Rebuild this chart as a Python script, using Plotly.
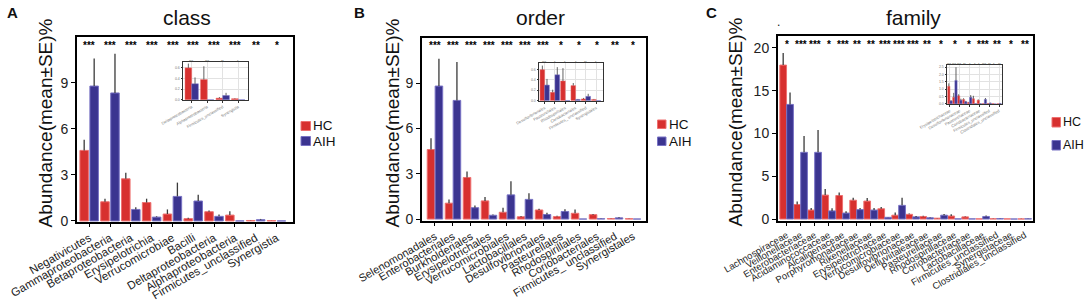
import plotly.graph_objects as go

# ---------------- data ----------------
class_categories = ["Negativicutes", "Gammaproteobacteria", "Betaproteobacteria", "Erysipelotrichia",
                    "Verrucomicrobiae", "Bacilli", "Deltaproteobacteria", "Alphaproteobacteria",
                    "Firmicutes_unclassified", "Synergistia"]
class_hc_mean = [4.6, 1.25, 2.75, 1.2, 0.45, 0.15, 0.6, 0.38, 0.03, 0.02]
class_hc_se = [0.7, 0.2, 0.4, 0.25, 0.3, 0.05, 0.08, 0.25, 0.02, 0.01]
class_aih_mean = [8.8, 8.35, 0.75, 0.25, 1.6, 1.3, 0.3, 0.0, 0.08, 0.0]
class_aih_se = [1.8, 2.55, 0.15, 0.05, 0.9, 0.4, 0.12, 0.0, 0.05, 0.0]
class_significance = ["***", "***", "***", "***", "***", "***", "***", "***", "**", "*"]

order_categories = ["Selenomonadales", "Enterobacteriales", "Burkholderiales", "Erysipelotrichales",
                    "Verrucomicrobiales", "Lactobacillales", "Desulfovibrionales", "Pasteurellales",
                    "Rhodospirillales", "Coriobacteriales", "Firmicutes_ unclassified", "Synergistales"]
order_hc_mean = [4.6, 1.05, 2.75, 1.2, 0.45, 0.15, 0.6, 0.16, 0.38, 0.29, 0.03, 0.02]
order_hc_se = [0.75, 0.25, 0.4, 0.25, 0.3, 0.05, 0.08, 0.05, 0.25, 0.05, 0.02, 0.01]
order_aih_mean = [8.8, 7.85, 0.75, 0.25, 1.6, 1.3, 0.3, 0.5, 0.0, 0.02, 0.08, 0.0]
order_aih_se = [1.8, 2.55, 0.15, 0.05, 0.9, 0.4, 0.12, 0.15, 0.0, 0.01, 0.05, 0.0]
order_significance = ["***", "***", "***", "***", "***", "***", "***", "*", "*", "*", "**", "*"]

family_categories = ["Lachnospiraceae", "Veillonellaceae", "Enterobacteriaceae", "Acidaminococcaceae",
                     "Alcaligenaceae", "Porphyromonadaceae", "Rikenellaceae", "Erysipelotrichaceae",
                     "Verrucomicrobiaceae", "Desulfovibrionaceae", "Defluviitaleaceae", "Pasteurellaceae",
                     "Rhodospirillaceae", "Coriobacteriaceae", "Lactobacillaceae", "Firmicutes_unclassified",
                     "Synergistaceae", "Clostridiales_unclassified"]
family_hc_mean = [18.0, 1.7, 1.05, 2.8, 2.75, 2.2, 2.1, 1.2, 0.45, 0.55, 0.3, 0.1, 0.35, 0.25, 0.02, 0.03, 0.02, 0.01]
family_hc_se = [1.4, 0.35, 0.25, 0.7, 0.35, 0.3, 0.35, 0.2, 0.3, 0.1, 0.08, 0.03, 0.2, 0.05, 0.01, 0.02, 0.01, 0.01]
family_aih_mean = [13.4, 7.8, 7.8, 0.95, 0.7, 1.1, 1.05, 0.2, 1.6, 0.25, 0.15, 0.45, 0.02, 0.02, 0.3, 0.05, 0.0, 0.03]
family_aih_se = [1.4, 1.9, 2.6, 0.3, 0.2, 0.2, 0.25, 0.05, 0.9, 0.1, 0.05, 0.15, 0.01, 0.01, 0.1, 0.03, 0.0, 0.02]
family_significance = ["*", "***", "***", "*", "***", "**", "**", "***", "***", "***", "**", "*",
                       "*", "*", "***", "**", "*", "**"]

group_names = ["HC", "AIH"]
y_title = "Abundance(mean±SE)%"

# ---------------- styling / layout helpers ----------------
W, H = 1084, 303


def fx(p):
    return p / W


def fy(p):
    return 1 - p / H


FONT = "Liberation Sans, Arial, Helvetica, sans-serif"
HC_FILL, HC_EDGE = "#D7302F", "#EE7070"
AIH_FILL, AIH_EDGE = "#3B3490", "#7872C4"
ERR = "#3A3A3A"

panels = [
    dict(letter="A", letter_xy=(12, 12), title="class", title_xy=(187, 17),
         cats=class_categories, hc=class_hc_mean, hc_se=class_hc_se,
         aih=class_aih_mean, aih_se=class_aih_se, sig=class_significance,
         box=(77, 293, 37, 222), xrange=[-0.59, 9.79], yrange=[-0.07, 12.0], yticks=[0, 3, 6, 9],
         hc_off=-0.45, aih_off=0.03, bw=0.41, star_y=0.955, ytitle_x=45, xfs=11.5,
         leg=dict(sq=(301, 310.5), hc=(121.5, 130.5), aih=(136.5, 145.5), tx=311, fs=13.5),
         inset=dict(start=6, box=(183, 248, 62, 100), xrange=[-0.56, 3.63], yrange=[-0.005, 0.71],
                    yticks=[0, 0.2, 0.4, 0.6], off=-0.43, bw=0.43)),
    dict(letter="B", letter_xy=(359, 12), title="order", title_xy=(540, 17),
         cats=order_categories, hc=order_hc_mean, hc_se=order_hc_se,
         aih=order_aih_mean, aih_se=order_aih_se, sig=order_significance,
         box=(422, 646, 38, 221), xrange=[-0.72, 11.72], yrange=[-0.13, 11.98], yticks=[0, 3, 6, 9],
         hc_off=-0.43, aih_off=0.01, bw=0.42, star_y=0.96, ytitle_x=392, xfs=11,
         leg=dict(sq=(657.5, 666), hc=(120, 128.5), aih=(137, 145.5), tx=667, fs=13.5),
         inset=dict(start=6, box=(539, 603, 63, 101), xrange=[-0.55, 5.66], yrange=[-0.01, 0.73],
                    yticks=[0, 0.2, 0.4, 0.6], off=-0.45, bw=0.45)),
    dict(letter="C", letter_xy=(711, 12), title="family", title_xy=(913, 17),
         cats=family_categories, hc=family_hc_mean, hc_se=family_hc_se,
         aih=family_aih_mean, aih_se=family_aih_se, sig=family_significance,
         box=(778, 1033, 36, 221), xrange=[-0.62, 17.59], yrange=[-0.23, 21.4], yticks=[0, 5, 10, 15, 20],
         hc_off=-0.49, aih_off=0.0, bw=0.48, star_y=0.955, ytitle_x=735, xfs=9.5,
         leg=dict(sq=(1052, 1060.5), hc=(117.5, 127), aih=(140.5, 150), tx=1060.5, fs=12.5),
         inset=dict(start=7, box=(947, 1002, 65, 104), xrange=[-0.6, 10.6], yrange=[-0.01, 2.65],
                    yticks=[0, 0.5, 1.0, 1.5, 2.0, 2.5], off=-0.46, bw=0.46)),
]

fig = go.Figure()
layout = dict(width=W, height=H, margin=dict(l=0, r=0, t=0, b=0, autoexpand=False),
              paper_bgcolor="white", plot_bgcolor="white", showlegend=False,
              font=dict(family=FONT, color="#111"), barmode="overlay")
annotations = []
shapes = []


def bar_pair(cats, hc, hc_se, aih, aih_se, xa, ya, hc_off, aih_off, bw, edge, thick):
    for name, vals, se, off, fill, line in ((group_names[0], hc, hc_se, hc_off, HC_FILL, HC_EDGE),
                                            (group_names[1], aih, aih_se, aih_off, AIH_FILL, AIH_EDGE)):
        fig.add_trace(go.Bar(
            x=cats, y=vals, name=name, xaxis=xa, yaxis=ya, offset=off, width=bw,
            marker=dict(color=fill, line=dict(color=line, width=edge)),
            error_y=dict(type="data", symmetric=False, array=se, arrayminus=[0] * len(se),
                         color=ERR, thickness=thick, width=0),
            showlegend=False, hovertemplate=name + " %{x}: %{y}<extra></extra>"))


for i, p in enumerate(panels):
    m = i + 1
    n = i + 4
    xa_m, ya_m = ("x", "y") if m == 1 else (f"x{m}", f"y{m}")
    xa_n, ya_n = f"x{n}", f"y{n}"
    xk_m = "xaxis" if m == 1 else f"xaxis{m}"
    yk_m = "yaxis" if m == 1 else f"yaxis{m}"

    x0, x1, y0, y1 = p["box"]
    bar_pair(p["cats"], p["hc"], p["hc_se"], p["aih"], p["aih_se"], xa_m, ya_m,
             p["hc_off"], p["aih_off"], p["bw"], 1, 1.3)

    layout[xk_m] = dict(domain=[fx(x0), fx(x1)], anchor=ya_m, type="category", range=p["xrange"],
                        showline=True, mirror=True, linecolor="black", linewidth=2,
                        ticks="outside", ticklen=3, tickwidth=1, tickcolor="black",
                        tickangle=-30, tickfont=dict(size=p["xfs"], color="#222"),
                        showgrid=False, zeroline=False, fixedrange=True, automargin=False)
    layout[yk_m] = dict(domain=[fy(y1), fy(y0)], anchor=xa_m, range=p["yrange"],
                        tickvals=p["yticks"], showline=True, mirror=True, linecolor="black", linewidth=2,
                        ticks="outside", ticklen=4, tickwidth=1.2, tickcolor="black",
                        tickfont=dict(size=14, color="#222"), showgrid=False, zeroline=False,
                        fixedrange=True, automargin=False)

    # y-axis title
    annotations.append(dict(text=y_title, x=fx(p["ytitle_x"]), y=fy((y0 + y1) / 2 - 6), xref="paper",
                            yref="paper", showarrow=False, textangle=-90, xanchor="center",
                            yanchor="middle", font=dict(size=19, color="#111")))
    # significance stars
    for c, s in zip(p["cats"], p["sig"]):
        annotations.append(dict(text=f"<b>{s}</b>", x=c, y=p["star_y"], xref=xa_m, yref=f"{ya_m} domain",
                                showarrow=False, xanchor="center", yanchor="middle",
                                font=dict(size=10, color="#000")))
    # title and panel letter
    annotations.append(dict(text=p["title"], x=fx(p["title_xy"][0]), y=fy(p["title_xy"][1]),
                            xref="paper", yref="paper", showarrow=False, xanchor="center",
                            yanchor="middle", font=dict(size=21, color="#111")))
    annotations.append(dict(text=f"<b>{p['letter']}</b>", x=fx(p["letter_xy"][0]), y=fy(p["letter_xy"][1]),
                            xref="paper", yref="paper", showarrow=False, xanchor="center",
                            yanchor="middle", font=dict(size=15, color="#111")))

    # legend (square + text)
    lg = p["leg"]
    for name, ys, fill, line in ((group_names[0], lg["hc"], HC_FILL, HC_EDGE),
                                 (group_names[1], lg["aih"], AIH_FILL, AIH_EDGE)):
        shapes.append(dict(type="rect", xref="paper", yref="paper", x0=fx(lg["sq"][0]), x1=fx(lg["sq"][1]),
                           y0=fy(ys[1]), y1=fy(ys[0]), fillcolor=fill, line=dict(color=line, width=1)))
        annotations.append(dict(text=name, x=fx(lg["tx"]), y=fy((ys[0] + ys[1]) / 2), xref="paper",
                                yref="paper", showarrow=False, xanchor="left", yanchor="middle",
                                font=dict(size=lg["fs"], color="#111")))

    # inset
    ins = p["inset"]
    s = ins["start"]
    ix0, ix1, iy0, iy1 = ins["box"]
    bar_pair(p["cats"][s:], p["hc"][s:], p["hc_se"][s:], p["aih"][s:], p["aih_se"][s:], xa_n, ya_n,
             ins["off"], 0.0, ins["bw"], 0.5, 0.8)
    layout[f"xaxis{n}"] = dict(domain=[fx(ix0), fx(ix1)], anchor=ya_n, type="category", range=ins["xrange"],
                               showline=True, mirror=True, linecolor="#333", linewidth=1,
                               ticks="outside", ticklen=2, tickwidth=0.8, tickcolor="#333",
                               tickangle=-30, tickfont=dict(size=4, color="#777"),
                               showgrid=True, gridcolor="#E2E2E2", gridwidth=1, zeroline=False,
                               fixedrange=True, automargin=False)
    layout[f"yaxis{n}"] = dict(domain=[fy(iy1), fy(iy0)], anchor=xa_n, range=ins["yrange"],
                               tickvals=ins["yticks"], tickformat=".1f",
                               showline=True, mirror=True, linecolor="#333", linewidth=1,
                               ticks="outside", ticklen=1.5, tickwidth=0.8, tickcolor="#333",
                               tickfont=dict(size=3.5, color="#777"),
                               showgrid=True, gridcolor="#E2E2E2", gridwidth=1, zeroline=False,
                               fixedrange=True, automargin=False)
    for c, sg in zip(p["cats"][s:], p["sig"][s:]):
        annotations.append(dict(text=sg, x=c, y=1.0, xref=xa_n, yref=f"{ya_n} domain",
                                showarrow=False, xanchor="center", yanchor="middle",
                                font=dict(size=3.5, color="#555")))

# stray dot present in the reference above panel C
annotations.append(dict(text=".", x=fx(778), y=fy(22), xref="paper", yref="paper", showarrow=False,
                        xanchor="center", yanchor="middle", font=dict(size=12, color="#111")))

layout["annotations"] = annotations
layout["shapes"] = shapes
fig.update_layout(**layout)
fig.write_html("out.html", config={"displayModeBar": False},
               post_script="document.body.style.margin='0px';")
